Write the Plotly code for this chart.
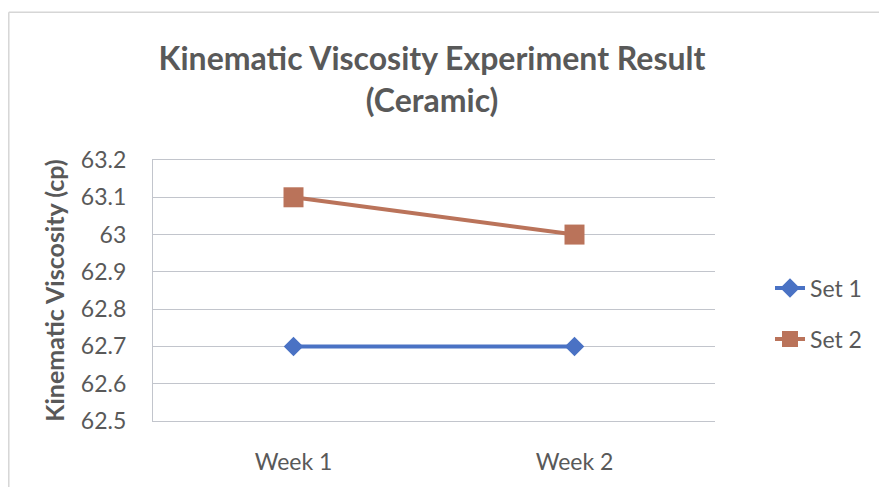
import plotly.graph_objects as go

categories = ["Week 1", "Week 2"]
set1 = [62.7, 62.7]
set2 = [63.1, 63.0]
y_ticks = [62.5, 62.6, 62.7, 62.8, 62.9, 63.0, 63.1, 63.2]
y_tick_labels = ["62.5", "62.6", "62.7", "62.8", "62.9", "63", "63.1", "63.2"]

FONT = "Lato, Carlito, 'Liberation Sans', sans-serif"
GREY = "#595959"
GRID = "#c2c5cc"

fig = go.Figure()
fig.add_trace(go.Scatter(
    x=categories, y=set1, name="Set 1", mode="lines+markers", legendgroup="a",
    line=dict(color="#4A72C4", width=4),
    marker=dict(symbol="diamond", size=15, color="#4A72C4"),
))
fig.add_trace(go.Scatter(
    x=categories, y=set2, name="Set 2", mode="lines+markers", legendgroup="b",
    line=dict(color="#BA735A", width=4),
    marker=dict(symbol="square", size=20, color="#BA735A"),
))

# page is rendered with an 8px body margin, so figure coords = page coords - 8
L, R, T, B = 145, 707, 152, 417
W, H = 879, 479
pw, ph = R - L, B - T

fig.update_layout(
    width=W, height=H,
    margin=dict(l=L, r=W - R, t=T, b=H - B),
    paper_bgcolor="white", plot_bgcolor="white",
    font=dict(family=FONT, color=GREY, size=23),
    title=dict(
        text="<b>Kinematic Viscosity Experiment Result<br>(Ceramic)</b>",
        x=424 / W, xanchor="center", y=1 - 62 / H, yanchor="middle",
        font=dict(size=32, color=GREY, family=FONT),
    ),
    showlegend=True,
    legend=dict(
        x=(762 - L) / pw, xanchor="left", y=(B - 308) / ph, yanchor="middle",
        font=dict(size=23, color=GREY), bgcolor="rgba(0,0,0,0)",
        traceorder="grouped", tracegroupgap=18, itemwidth=30,
    ),
    xaxis=dict(
        type="category", range=[-0.5, 1.5], showgrid=False, zeroline=False,
        showline=True, mirror=True, linecolor=GRID, linewidth=1.3,
        ticks="", ticklabelstandoff=20,
        tickfont=dict(size=23, color=GREY),
    ),
    yaxis=dict(
        range=[62.5, 63.2], tickvals=y_ticks, ticktext=y_tick_labels,
        showgrid=True, gridcolor=GRID, gridwidth=1.3, zeroline=False,
        showline=True, linecolor=GRID, linewidth=1.3,
        ticks="", ticklabelstandoff=21,
        tickfont=dict(size=23, color=GREY),
        title=dict(text="<b>Kinematic Viscosity (cp)</b>", standoff=9,
                   font=dict(size=25, color=GREY)),
    ),
)

# chart outer frame (left and top edges visible)
fx0 = (0.8 - L) / pw
fy1 = (B - 2) / ph
fig.add_shape(type="line", xref="paper", yref="paper",
              x0=fx0, x1=fx0, y0=(B - H - 5) / ph, y1=fy1,
              line=dict(color="#d6d6d6", width=1.5))
fig.add_shape(type="line", xref="paper", yref="paper",
              x0=fx0, x1=(W + 5 - L) / pw, y0=fy1, y1=fy1,
              line=dict(color="#d6d6d6", width=1.5))

fig.write_html("out.html")
